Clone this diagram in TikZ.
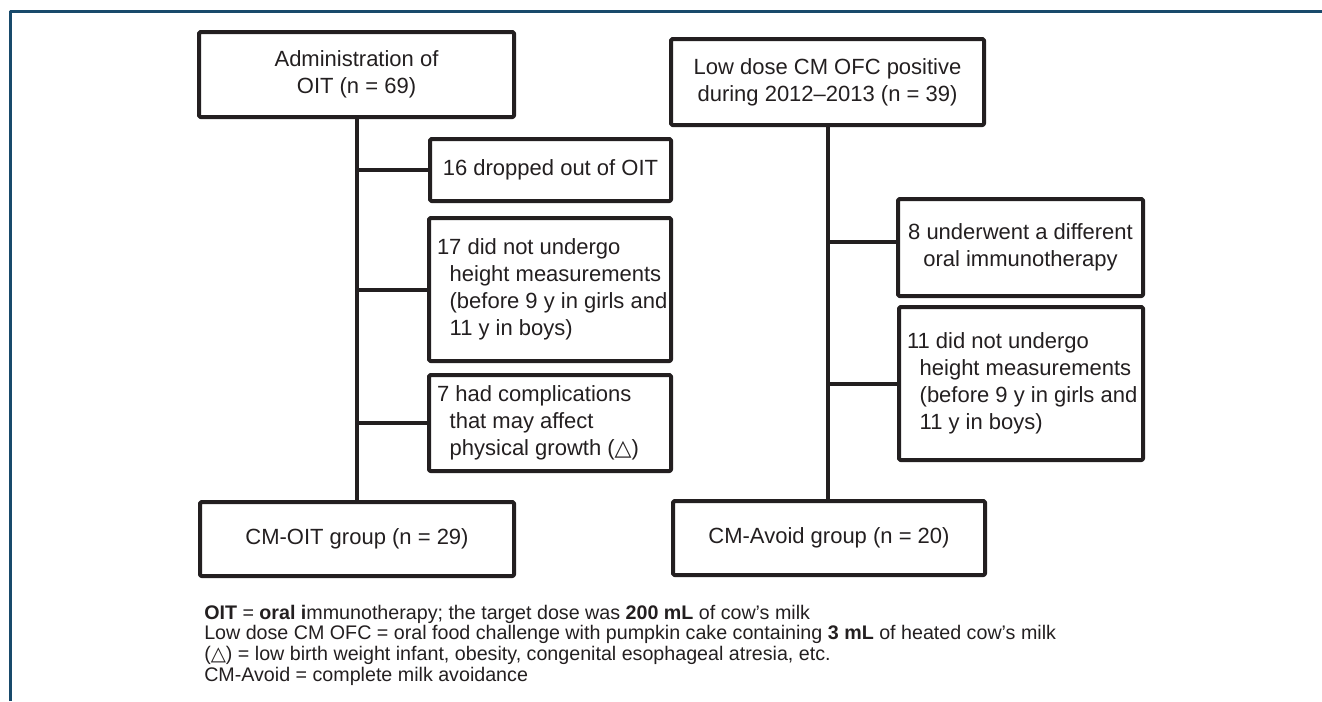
\documentclass[tikz,border=0pt]{standalone}
\usepackage{fontspec}
\setmainfont{Liberation Sans}
\newfontfamily\trifont{DejaVu Sans}
\definecolor{ink}{RGB}{35,31,32}
\definecolor{frame}{RGB}{24,74,107}
\newcommand{\boxfont}{\fontsize{16.5pt}{20.25pt}\selectfont}
\newcommand{\notefont}{\fontsize{14.75pt}{15.5pt}\selectfont}
\newcommand{\tri}{{\trifont △}}
\newcommand{\firstl}[1]{\mbox{\hspace{6pt}#1}}
\newcommand{\indl}[1]{\mbox{\hspace{15.5pt}#1}}

\begin{document}
\begin{tikzpicture}[x=0.75pt, y=-0.75pt, line join=round,
    box/.style={draw=ink, line width=3pt, rounded corners=1pt, inner sep=0pt, text=ink, font=\boxfont, align=flush center},
    lbox/.style={box, align=flush left},
    link/.style={draw=ink, line width=3pt}]
    \useasboundingbox (0,0) rectangle (1322,701);
    \draw[frame, line width=2.25pt] (10,701) -- (10,11.5) -- (1322,11.5);

    \node[box, minimum width=236.25pt, minimum height=63.75pt] (adm) at (356.5,74.5) {Administration of\\OIT (n = 69)};
    \node[box, minimum width=180.75pt, minimum height=46.5pt] (drop) at (550.5,170) {16 dropped out of OIT};
    \node[lbox, text width=181.5pt, minimum height=107.25pt] (meas) at (550,289.5) {\firstl{17 did not undergo}\\\indl{height measurements}\\\indl{(before 9 y in girls and}\\\indl{11 y in boys)}};
    \node[lbox, text width=181.5pt, minimum height=72pt] (comp) at (550,423) {\firstl{7 had complications}\\\indl{that may affect}\\\indl{physical growth (\tri)}};
    \node[box, minimum width=235.5pt, minimum height=55.5pt] (oit) at (357,539) {CM-OIT group (n = 29)};

    \node[box, minimum width=234.75pt, minimum height=64.5pt] (ofc) at (827.5,82) {Low dose CM OFC positive\\during 2012–2013 (n = 39)};
    \node[box, minimum width=183.75pt, minimum height=72.75pt] (diff) at (1020.5,247.5) {8 underwent a different\\oral immunotherapy};
    \node[lbox, text width=183pt, minimum height=114.75pt] (meas2) at (1021,383.5) {\firstl{11 did not undergo}\\\indl{height measurements}\\\indl{(before 9 y in girls and}\\\indl{11 y in boys)}};
    \node[box, minimum width=234pt, minimum height=55.5pt] (avoid) at (829,538) {CM-Avoid group (n = 20)};

    \draw[link] (adm.south) -- (adm.south |- oit.north);
    \draw[link] (adm.south |- drop.west) -- (drop.west);
    \draw[link] (adm.south |- meas.west) -- (meas.west);
    \draw[link] (adm.south |- comp.west) -- (comp.west);

    \draw[link] (ofc.south) -- (ofc.south |- avoid.north);
    \draw[link] ([yshift=4pt]ofc.south |- diff.west) -- ([yshift=4pt]diff.west);
    \draw[link] (ofc.south |- meas2.west) -- (meas2.west);

    \node[anchor=base west, inner sep=0pt, align=left, font=\notefont, text=ink] (notes) at (204,681) {\textbf{OIT} = \textbf{oral i}mmunotherapy; the target dose was \textbf{200 mL} of cow’s milk\\
        Low dose CM OFC = oral food challenge with pumpkin cake containing \textbf{3 mL} of heated cow’s milk\\
        (\tri) = low birth weight infant, obesity, congenital esophageal atresia, etc.\\
        CM-Avoid = complete milk avoidance};
\end{tikzpicture}
\end{document}
